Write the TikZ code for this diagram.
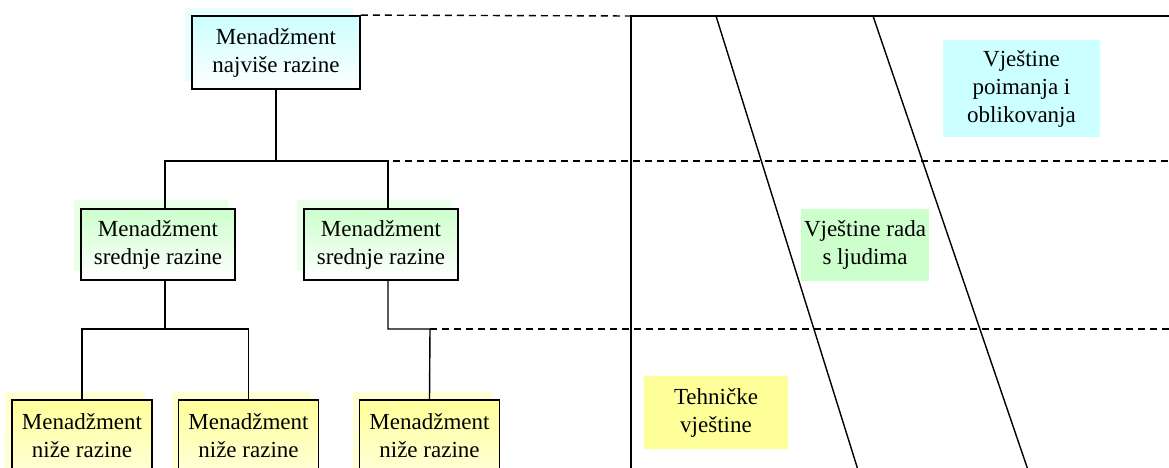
\documentclass[tikz,border=0pt]{standalone}
\usepackage{fontspec}
\setmainfont{Liberation Serif}
\definecolor{cy}{RGB}{204,255,255}
\definecolor{gr}{RGB}{204,255,204}
\definecolor{ye}{RGB}{255,255,153}
\definecolor{cysh}{RGB}{232,255,255}
\definecolor{grsh}{RGB}{232,255,232}
\definecolor{yesh}{RGB}{255,255,210}
\begin{document}
\begin{tikzpicture}[x=1pt,y=-1pt,
  txt/.style={align=center, inner sep=0pt, font=\fontsize{23}{28}\selectfont},
  box/.style={txt, draw=black, line width=1.8pt},
  topbox/.style={box, minimum width=168pt, minimum height=73pt, top color=cy, bottom color=white},
  midbox/.style={box, minimum width=154pt, minimum height=71pt, top color=gr, bottom color=white},
  lowbox/.style={box, minimum width=140pt, minimum height=71pt, top color=ye, bottom color=white!60!ye},
  shadow/.style={inner sep=0pt},
  conn/.style={line width=1.4pt},
  dsh/.style={line width=1.4pt, dash pattern=on 7pt off 5pt},
  lab/.style={txt, inner sep=0pt}]
\useasboundingbox (0,0) rectangle (1169,468);
\clip (0,0) rectangle (1169,468);
% shadows
\fill[cysh] (185,8) rectangle (353,81);
\fill[grsh] (74,200) rectangle (228,271);
\fill[grsh] (297,200) rectangle (451,271);
\fill[yesh] (5,392) rectangle (145,470);
\fill[yesh] (172,392) rectangle (311,470);
\fill[yesh] (353,392) rectangle (492,470);
% boxes
\node[topbox] (top) at (276,52.5) {Menadžment\\najviše razine};
\node[midbox] (ml) at (158,244.5) {Menadžment\\srednje razine};
\node[midbox] (mr) at (381,244.5) {Menadžment\\srednje razine};
\node[lowbox] (bl) at (82,435.5) {Menadžment\\niže razine};
\node[lowbox] (bm) at (248.5,435.5) {Menadžment\\niže razine};
\node[lowbox] (br) at (429.5,435.5) {Menadžment\\niže razine};
% connector coordinates
\coordinate (b1l) at (165,161);
\coordinate (b1r) at (388,161);
\coordinate (b3) at (430,329);
\draw[conn] (top.south) -- (top.south |- b1l);
\draw[conn] (b1l |- ml.north) -- (b1l) -- (b1r) -- (b1r |- mr.north);
\draw[conn] (b1l |- ml.south) -- (b1l |- b3);
\draw[conn] (bl.north) -- (bl.north |- b3) -- (bm.north |- b3) -- (bm.north);
\draw[conn] (b1r |- mr.south) -- (b1r |- b3) -- (b3) -- (br.north);
% right panel
\coordinate (pt) at (631,16);
\coordinate (pr) at (1172,16);
\coordinate (pb) at (631,472);
\draw[dsh] (top.north east) -- (pt);
\draw[dsh] (393,161) -- (1172,161);
\draw[dsh] (b3) -- (1172,329);
\draw[conn] (pb) -- (pt) -- (pr);
\coordinate (d1a) at (716,16);
\coordinate (d1b) at (858,470);
\coordinate (d2a) at (873,16);
\coordinate (d2b) at (1028,470);
\draw[conn] (d1a) -- (d1b);
\draw[conn] (d2a) -- (d2b);
% labels
\node[lab, fill=cy, minimum width=157pt, minimum height=97pt] (lc) at (1021.5,88.5) {Vještine\\poimanja i\\oblikovanja};
\node[lab, fill=gr, minimum width=128pt, minimum height=72pt] (lg) at (865,245) {Vještine rada\\s ljudima};
\node[lab, fill=ye, minimum width=144pt, minimum height=73pt] (ly) at (716,412.5) {Tehničke\\vještine};
\end{tikzpicture}
\end{document}
